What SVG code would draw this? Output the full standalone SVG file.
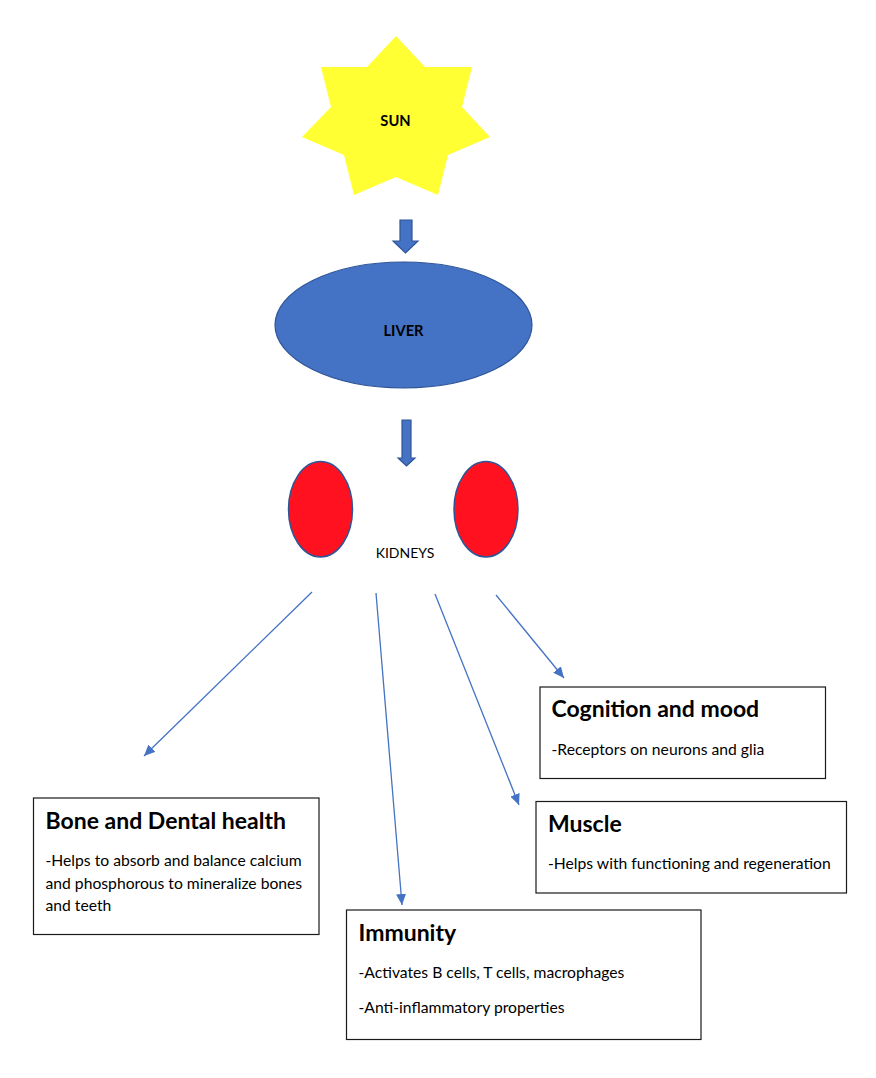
<svg xmlns="http://www.w3.org/2000/svg" width="876" height="1078" viewBox="0 0 876 1078">
<style>
text{font-family:Lato,"Open Sans","Liberation Sans",sans-serif;fill:#000}
.h{font-size:23px;font-weight:700}
.b{font-size:15.700px}
.l{font-size:14.700px;font-weight:700}
.box{fill:#fff;stroke:#1a1a1a;stroke-width:1.2}
.blk{fill:#4472c4;stroke:#2f5597;stroke-width:1.2}
.kid{fill:#ff111f;stroke:#2f5597;stroke-width:1.5}
.con{fill:none;stroke:#4472c4;stroke-width:1.3;marker-end:url(#a)}
</style>
<defs><marker id="a" markerUnits="userSpaceOnUse" markerWidth="12" markerHeight="10" refX="11" refY="5" orient="auto"><path d="M0 0L11 5L0 10z" fill="#4472c4"/></marker></defs>
<rect width="876" height="1078" fill="#fff"/>
<g id="sun"><polygon fill="#ffff33" points="396,36 425,67 472,67 462,107 490,137 448,155 438,195 396,177 354,195 344,155 302,137 331,107 321,67 367,67"/><text class="l" x="395.500" y="126" text-anchor="middle">SUN</text></g>
<g id="liver"><ellipse class="blk" cx="403.500" cy="325" rx="128.500" ry="63"/><text class="l" x="403.500" y="336" text-anchor="middle">LIVER</text></g>
<g id="kidney-left"><ellipse class="kid" cx="320.500" cy="509.300" rx="32" ry="47.700"/></g>
<g id="kidney-right"><ellipse class="kid" cx="486" cy="509.300" rx="32" ry="47.700"/></g>
<g id="kidneys-label"><text x="405" y="558" font-size="14" text-anchor="middle">KIDNEYS</text></g>
<g id="connectors">
<polygon class="blk" points="400,220 412,220 412,241 418,241 405.500,253 393,241 400,241"/>
<polygon class="blk" points="402,420 411,420 411,458 415,458 406.500,466 398,458 402,458"/>
<line class="con" x1="312" y1="592" x2="144" y2="756"/>
<line class="con" x1="376" y1="593" x2="402" y2="905"/>
<line class="con" x1="435" y1="594" x2="519" y2="805"/>
<line class="con" x1="496" y1="595" x2="564" y2="678"/>
</g>
<g id="bone"><rect class="box" x="33.500" y="798" width="285.500" height="136.500"/><text class="h" x="45.500" y="829">Bone and Dental health</text><text class="b" x="45.500" y="866">-Helps to absorb and balance calcium</text><text class="b" x="45.500" y="888.500">and phosphorous to mineralize bones</text><text class="b" x="45.500" y="911">and teeth</text></g>
<g id="immunity"><rect class="box" x="346.500" y="910" width="354.500" height="129.500"/><text class="h" x="358.500" y="941">Immunity</text><text class="b" x="358.500" y="978">-Activates B cells, T cells, macrophages</text><text class="b" x="358.500" y="1013">-Anti-inflammatory properties</text></g>
<g id="cognition"><rect class="box" x="540" y="687" width="285.500" height="91.500"/><text class="h" x="551.500" y="717">Cognition and mood</text><text class="b" x="551.500" y="755">-Receptors on neurons and glia</text></g>
<g id="muscle"><rect class="box" x="536" y="801.500" width="310.500" height="91.500"/><text class="h" x="548" y="832">Muscle</text><text class="b" x="548" y="869">-Helps with functioning and regeneration</text></g>
</svg>
